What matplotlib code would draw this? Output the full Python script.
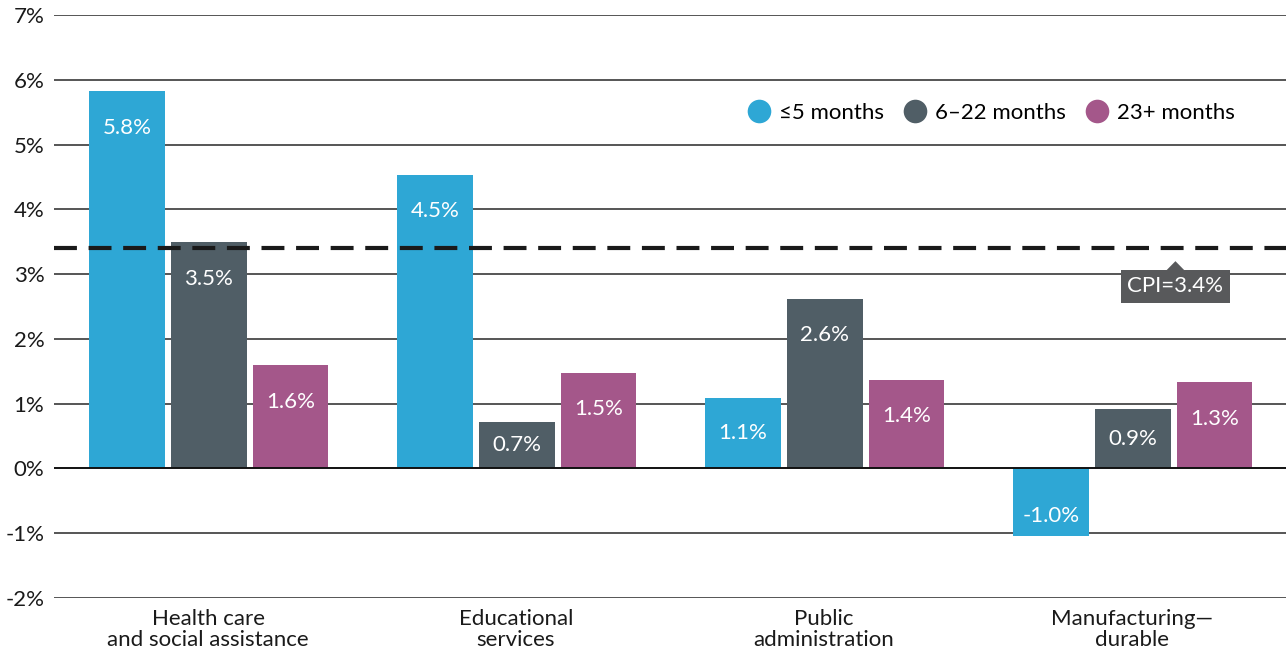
import matplotlib.pyplot as plt
from matplotlib.lines import Line2D
import numpy as np

plt.rcParams['font.family'] = ['Lato', 'DejaVu Sans']

categories = ['Health care\nand social assistance', 'Educational\nservices',
              'Public\nadministration', 'Manufacturing\u2014\ndurable']
series_names = ['\u22645 months', '6\u201322 months', '23+ months']
short_tenure = [5.82, 4.53, 1.08, -1.05]
mid_tenure = [3.49, 0.72, 2.62, 0.91]
long_tenure = [1.59, 1.47, 1.37, 1.33]
short_labels = ['5.8%', '4.5%', '1.1%', '-1.0%']
mid_labels = ['3.5%', '0.7%', '2.6%', '0.9%']
long_labels = ['1.6%', '1.5%', '1.4%', '1.3%']
cpi = 3.4
yticks = [-2, -1, 0, 1, 2, 3, 4, 5, 6, 7]

colors = ['#2ea7d5', '#505e66', '#a4578a']

fig = plt.figure(figsize=(12.86, 6.52), dpi=100)
ax = fig.add_axes([54 / 1286, 1 - 598 / 652, 1 - 54 / 1286, (598 - 15) / 652])

x = np.arange(len(categories))
width = 0.244
step = 0.266
all_vals = [short_tenure, mid_tenure, long_tenure]
all_labels = [short_labels, mid_labels, long_labels]

for i in range(3):
    xs = x + (i - 1) * step + 0.003
    ax.bar(xs, all_vals[i], width, color=colors[i], zorder=3)
    for xi, v, lab in zip(xs, all_vals[i], all_labels[i]):
        if v >= 0:
            ty = v - min(0.56, v / 2)
        else:
            ty = v + 0.32
        ax.text(xi, ty, lab, color='white', ha='center', va='center',
                fontsize=16, zorder=5)

for t in yticks:
    ax.axhline(t, color='#111111' if t == 0 else '#555555',
               lw=1.4, zorder=1 if t != 0 else 4)

ax.axhline(cpi, color='#1a1a1a', lw=3, dashes=(5.5, 2.8), zorder=6)

# CPI callout
bx, by = 3.141, 2.81
ax.text(bx, by, 'CPI=3.4%', ha='center', va='center', color='white',
        fontsize=16, zorder=7,
        bbox=dict(boxstyle='square,pad=0.3', fc='#58595b', ec='none'))
ax.fill([bx - 0.033, bx, bx + 0.033], [3.04, 3.2, 3.04], color='#58595b', zorder=7, lw=0)

ax.set_xlim(-0.5, 3.5)
ax.set_ylim(-2, 7)
ax.set_yticks(yticks)
ax.set_yticklabels([f'{t}%' for t in yticks], fontsize=16, color='#1a1a1a')
ax.set_xticks(x)
ax.set_xticklabels(categories, fontsize=16, color='#1a1a1a', linespacing=1.08)
ax.tick_params(axis='both', length=0)
ax.tick_params(axis='y', pad=7)
ax.tick_params(axis='x', pad=8)
for s in ax.spines.values():
    s.set_visible(False)

handles = [Line2D([0], [0], marker='o', color='none', markerfacecolor=c,
                  markeredgecolor='none', markersize=17) for c in colors]
ax.legend(handles, series_names, ncol=3, frameon=False, fontsize=16,
          loc='upper right', bbox_to_anchor=(0.975, 0.883),
          handletextpad=0.2, columnspacing=0.7, handlelength=1.4)

fig.savefig('out.png', dpi=100)
